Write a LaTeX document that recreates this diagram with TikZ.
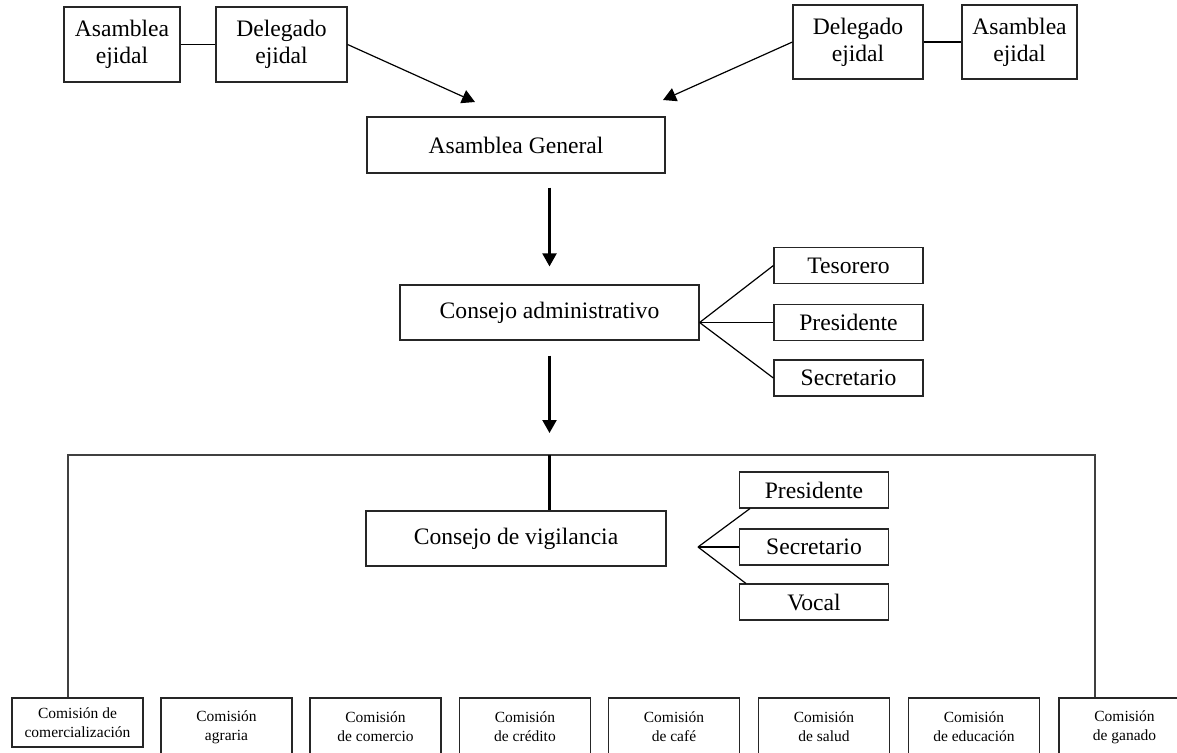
\documentclass[tikz,border=0pt]{standalone}
\usepackage{fontspec}
\setmainfont{Liberation Serif}
\usetikzlibrary{arrows.meta,calc}
\begin{document}
\begin{tikzpicture}[x=0.5pt,y=-0.5pt,
  box/.style={draw=black!85, line width=0.6pt, inner sep=0pt, align=center,
    font=\fontsize{11.8}{13.5}\selectfont},
  rolebox/.style={box, minimum width=74.5pt, minimum height=18pt},
  combox/.style={draw=black!85, line width=0.6pt, inner sep=0pt, align=center,
    font=\fontsize{7.75}{9.5}\selectfont, minimum width=65.5pt, minimum height=29pt},
  link/.style={line width=0.6pt},
  bar/.style={line width=0.8pt, draw=black!75},
  stem/.style={line width=1.1pt},
  mainarrow/.style={line width=1.1pt, -{Triangle[width=7pt,length=6.5pt]}},
  feedarrow/.style={line width=0.6pt, -{Triangle[width=7pt,length=6.5pt]}}]

\useasboundingbox (0,0) rectangle (1177,752);
\clip (0,0) rectangle (1177,752);

% top row: ejidal assemblies and their delegates
\node[box, minimum width=58pt,   minimum height=37.5pt] (ael) at (122,44.5)  {Asamblea\\ejidal};
\node[box, minimum width=65.5pt, minimum height=37.5pt] (del) at (281.5,44.5) {Delegado\\ejidal};
\node[box, minimum width=65pt,   minimum height=37pt]   (der) at (858,42)     {Delegado\\ejidal};
\node[box, minimum width=57.5pt, minimum height=37pt]   (aer) at (1019.5,42)  {Asamblea\\ejidal};

% general assembly and administrative council
\node[box, minimum width=149pt,   minimum height=28pt]   (ag) at (516,145)   {Asamblea General};
\node[box, minimum width=149.5pt, minimum height=27.5pt] (ca) at (549.5,312.5) {Consejo administrativo};
\node[rolebox] (tes)  at (848.5,265.5) {Tesorero};
\node[rolebox] (pres) at (848.5,322.5) {Presidente};
\node[rolebox] (sec)  at (848.5,378)   {Secretario};

% supervisory council
\node[box, minimum width=150pt, minimum height=27.5pt] (cv) at (516,538.5) {Consejo de vigilancia};
\node[rolebox] (vpres) at (814,490) {Presidente};
\node[rolebox] (vsec)  at (814,547) {Secretario};
\node[rolebox] (vvoc)  at (814,602) {Vocal};

% commissions
\node[combox, minimum height=24.5pt] (c1) at (77.5,722.5) {Comisión de\\comercialización};
\node[combox] (c2) at (226.5,727) {Comisión\\agraria};
\node[combox] (c3) at (375.5,727) {Comisión\\de comercio};
\node[combox] (c4) at (525,727)   {Comisión\\de crédito};
\node[combox] (c5) at (674,727)   {Comisión\\de café};
\node[combox] (c6) at (824,727)   {Comisión\\de salud};
\node[combox] (c7) at (974,727)   {Comisión\\de educación};
\node[combox] (c8) at (1124.5,727) {Comisión\\de ganado};

% connectors in the top row
\draw[link] (ael) -- (del);
\draw[link] (der) -- (aer);
\coordinate (tipL) at (475,102);
\coordinate (tipR) at (663,100);
\draw[feedarrow] (del.east) -- (tipL);
\draw[feedarrow] (der.west) -- (tipR);

% main vertical flow
\draw[mainarrow, shorten <=7pt, shorten >=9pt] (ag.south -| ca.north) -- (ca.north);
\coordinate (barL) at (68,455);
\coordinate (barR) at (1095,455);
\draw[mainarrow, shorten <=7.5pt, shorten >=11pt] (ca.south) -- (ca.south |- barL);

% distribution bar to the commissions
\draw[bar] (barL |- c1.north) -- (barL) -- (barR) -- (barR |- c8.north);
\draw[stem] (ca.south |- barL) -- (ca.south |- cv.north);

% administrative council officers
\coordinate (fanA) at (ca.east |- pres.west);
\draw[link] (fanA) -- (tes.west);
\draw[link] (fanA) -- (pres.west);
\draw[link] (fanA) -- (sec.west);

% supervisory council officers
\coordinate (fanV) at (698,547);
\draw[link] (fanV) -- ($(vpres.south west)+(11,0)$);
\draw[link] (fanV) -- (vsec.west);
\draw[link] (fanV) -- ($(vvoc.north west)+(7,0)$);

\end{tikzpicture}
\end{document}
